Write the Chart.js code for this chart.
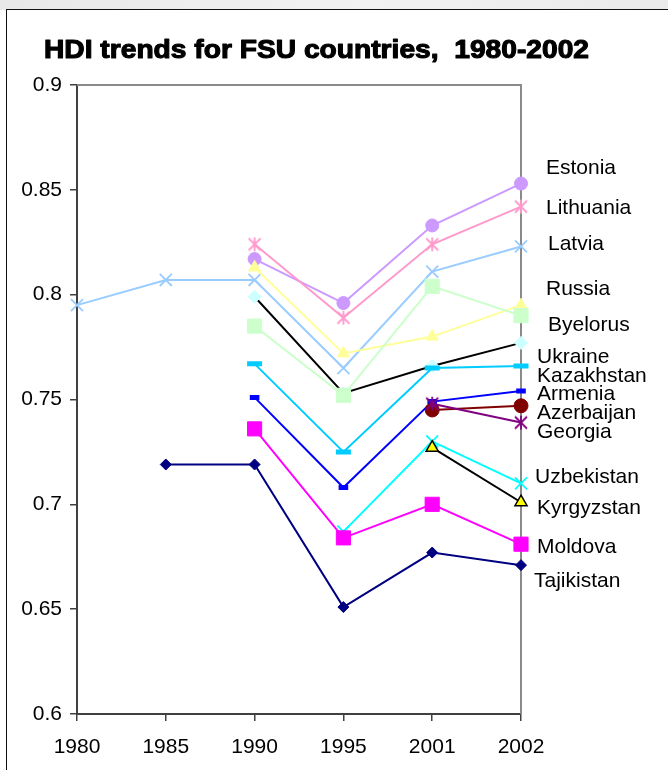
<!DOCTYPE html>
<html>
<head>
<meta charset="utf-8">
<script src="https://cdn.jsdelivr.net/npm/chart.js@4/dist/chart.umd.min.js"></script>
<style>
  html, body { margin: 0; padding: 0; background: #fff; width: 668px; height: 770px; overflow: hidden; }
  #band { position: absolute; left: 0; top: 0; width: 668px; height: 10px;
          background: linear-gradient(to right, #e8e8e8, #f2f2f2 55%, #eaeaea); }
  #frame { position: absolute; left: 6px; top: 9px; width: 720px; height: 820px;
           border-left: 1.5px solid #111; border-top: 1.5px solid #111; }
  canvas { position: absolute; left: 0; top: 0; }
</style>
</head>
<body>
<div id="band"></div>
<div id="frame"></div>
<canvas id="hdi" width="668" height="770"></canvas>
<script>
// Years on the horizontal axis
const years = ['1980', '1985', '1990', '1995', '2001', '2002'];
// Y tick labels
const yTickLabels = ['0.6', '0.65', '0.7', '0.75', '0.8', '0.85', '0.9'];

// Human Development Index by country (null = no value for that year)
const estonia    = [null,  null,  0.817, 0.796, 0.833, 0.853];
const lithuania  = [null,  null,  0.824, 0.789, 0.824, 0.842];
const latvia     = [0.795, 0.807, 0.807, 0.765, 0.811, 0.823];
const russia     = [null,  null,  0.813, 0.772, 0.780, 0.795];
const byelorus   = [null,  null,  0.785, 0.752, 0.804, 0.790];
const ukraine    = [null,  null,  0.799, 0.753, 0.766, 0.777];
const kazakhstan = [null,  null,  0.767, 0.725, 0.765, 0.766];
const armenia    = [null,  null,  0.751, 0.708, 0.749, 0.754];
const azerbaijan = [null,  null,  null,  null,  0.745, 0.747];
const georgia    = [null,  null,  null,  null,  0.748, 0.739];
const uzbekistan = [null,  null,  null,  0.687, 0.730, 0.710];
const kyrgyzstan = [null,  null,  null,  null,  0.727, 0.701];
const moldova    = [null,  null,  0.736, 0.684, 0.700, 0.681];
const tajikistan = [null,  0.719, 0.719, 0.651, 0.677, 0.671];

const countries = ['Estonia', 'Lithuania', 'Latvia', 'Russia', 'Byelorus', 'Ukraine', 'Kazakhstan',
                   'Armenia', 'Azerbaijan', 'Georgia', 'Uzbekistan', 'Kyrgyzstan', 'Moldova', 'Tajikistan'];
const series = [estonia, lithuania, latvia, russia, byelorus, ukraine, kazakhstan,
                armenia, azerbaijan, georgia, uzbekistan, kyrgyzstan, moldova, tajikistan];

// Asterisk marker: an X with a vertical stroke through it
function asterisk(color, half) {
  const s = half * 2 + 4;
  const c = document.createElement('canvas');
  c.width = s; c.height = s;
  const g = c.getContext('2d');
  const m = s / 2;
  g.strokeStyle = color; g.lineWidth = 1.8;
  g.beginPath();
  g.moveTo(m - half, m - half); g.lineTo(m + half, m + half);
  g.moveTo(m + half, m - half); g.lineTo(m - half, m + half);
  g.moveTo(m, m - half - 1); g.lineTo(m, m + half + 1);
  g.stroke();
  return c;
}

// Per-series look: line colour, marker, marker fill/border, marker size
const styles = [
  { line: '#CC99FF', point: 'circle',   fill: '#CC99FF', border: '#CC99FF', r: 6.5, bw: 1 },
  { line: '#FF99CC', point: asterisk('#FF99CC', 6), fill: '#FF99CC', border: '#FF99CC', r: 7, bw: 1 },
  { line: '#99CCFF', point: 'crossRot', fill: '#99CCFF', border: '#99CCFF', r: 8.5, bw: 1.8 },
  { line: '#FFFF99', point: 'triangle', fill: '#FFFF99', border: '#FFFF99', r: 7, bw: 1 },
  { line: '#CCFFCC', point: 'rect',     fill: '#CCFFCC', border: '#CCFFCC', r: 10, bw: 1 },
  { line: '#000000', point: 'rectRot',  fill: '#CCFFFF', border: '#CCFFFF', r: 6.5, bw: 1 },
  { line: '#00CCFF', point: 'line',     fill: '#00CCFF', border: '#00CCFF', r: 7.5, bw: 5 },
  { line: '#0000FF', point: 'line',     fill: '#0000FF', border: '#0000FF', r: 4.8, bw: 5 },
  { line: '#800000', point: 'circle',   fill: '#800000', border: '#800000', r: 7, bw: 1 },
  { line: '#800080', point: asterisk('#800080', 6), fill: '#800080', border: '#800080', r: 7, bw: 1 },
  { line: '#00FFFF', point: 'crossRot', fill: '#00FFFF', border: '#00FFFF', r: 8.5, bw: 1.8 },
  { line: '#000000', point: 'triangle', fill: '#FFFF00', border: '#000000', r: 7, bw: 1.5 },
  { line: '#FF00FF', point: 'rect',     fill: '#FF00FF', border: '#FF00FF', r: 10, bw: 1 },
  { line: '#000080', point: 'rectRot',  fill: '#000080', border: '#000080', r: 5.5, bw: 1 }
];

// Stacking of the series (lower = drawn later, on top)
const drawOrder = [14, 13, 12, 11, 9, 10, 8, 7, 6, 5, 4, 3, 2, 1];

// Where each country's name sits, relative to its 2002 marker (px)
const nameOffsets = [
  [25, -16], [25, 1], [27, -3], [25, -17], [27, 9], [16, 13], [16, 9],
  [16, 2], [16, 6], [16, 9], [14, -7], [16, 5], [16, 2], [13, 15]
];

const FONT = '"Liberation Sans", Arial, sans-serif';

const datasets = series.map((values, i) => ({
  label: countries[i],
  data: values,
  borderColor: styles[i].line,
  borderWidth: 2,
  backgroundColor: styles[i].fill,
  pointStyle: styles[i].point,
  pointBackgroundColor: styles[i].fill,
  pointBorderColor: styles[i].border,
  pointBorderWidth: styles[i].bw,
  pointRadius: styles[i].r,
  pointHoverRadius: styles[i].r,
  spanGaps: false,
  tension: 0,
  order: drawOrder[i]
}));

// Grey top/right frame of the plotting area
const plotFrame = {
  id: 'plotFrame',
  beforeDatasetsDraw(chart) {
    const { ctx, chartArea: a } = chart;
    ctx.save();
    ctx.strokeStyle = '#8a8a8a';
    ctx.lineWidth = 2;
    ctx.beginPath();
    ctx.moveTo(a.left, a.top);
    ctx.lineTo(a.right, a.top);
    ctx.lineTo(a.right, a.bottom);
    ctx.stroke();
    ctx.restore();
  }
};

// Heading and country names at the line ends
const annotations = {
  id: 'annotations',
  afterDraw(chart) {
    const { ctx, chartArea: a, scales } = chart;
    ctx.save();
    // heading
    ctx.font = 'bold 26px ' + FONT;
    ctx.fillStyle = '#000';
    ctx.strokeStyle = '#000';
    ctx.lineWidth = 1.1;
    ctx.lineJoin = 'round';
    ctx.textBaseline = 'alphabetic';
    const title = 'HDI trends for FSU countries,  1980-2002';
    const w = ctx.measureText(title).width;
    ctx.translate(44, 58);
    ctx.scale(545 / w, 1);
    ctx.fillText(title, 0, 0);
    ctx.strokeText(title, 0, 0);
    ctx.restore();

    ctx.save();
    ctx.font = '21px ' + FONT;
    ctx.fillStyle = '#000';
    ctx.textBaseline = 'middle';
    ctx.textAlign = 'left';
    const last = years.length - 1;
    series.forEach((values, i) => {
      const y = scales.y.getPixelForValue(values[last]);
      ctx.fillText(countries[i], a.right + nameOffsets[i][0], y + nameOffsets[i][1] + 1);
    });
    ctx.restore();
  }
};

new Chart(document.getElementById('hdi'), {
  type: 'line',
  data: { labels: years, datasets },
  plugins: [plotFrame, annotations],
  options: {
    responsive: false,
    animation: false,
    events: [],
    layout: { padding: { left: 0, top: 85, right: 147, bottom: 0 } },
    plugins: { legend: { display: false }, title: { display: false }, tooltip: { enabled: false } },
    scales: {
      x: {
        type: 'category',
        offset: false,
        afterFit(scale) { scale.height = 56; },
        grid: { display: true, drawOnChartArea: false, drawTicks: true, tickLength: 7,
                color: '#404040', lineWidth: 1.5, offset: false },
        border: { display: true, color: '#404040', width: 2 },
        ticks: { color: '#000', font: { family: FONT, size: 21 }, padding: 14,
                 maxRotation: 0, autoSkip: false }
      },
      y: {
        min: 0.6,
        max: 0.9,
        afterFit(scale) { scale.width = 77; },
        afterBuildTicks(scale) {
          scale.ticks = yTickLabels.map(t => ({ value: parseFloat(t) }));
        },
        grid: { display: true, drawOnChartArea: false, drawTicks: true, tickLength: 7,
                color: '#404040', lineWidth: 1.5 },
        border: { display: true, color: '#404040', width: 2 },
        ticks: {
          color: '#000', font: { family: FONT, size: 21 }, padding: 8,
          callback(value) { return yTickLabels.find(t => Math.abs(parseFloat(t) - value) < 1e-9) || ''; }
        }
      }
    }
  }
});
</script>
</body>
</html>
